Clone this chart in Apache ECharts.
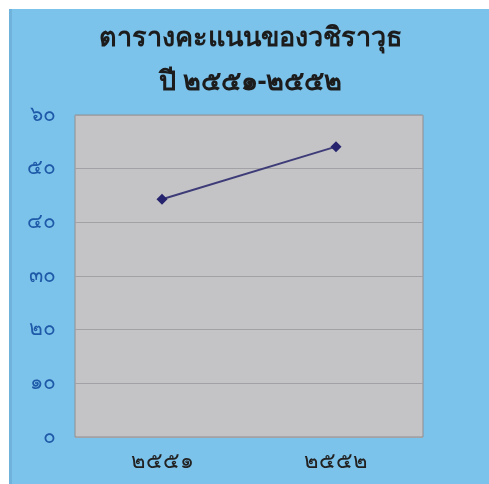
<!DOCTYPE html>
<html>
<head>
<meta charset="utf-8">
<script src="https://cdn.jsdelivr.net/npm/echarts@6/dist/echarts.min.js"></script>
<style>
  html, body { margin: 0; padding: 0; background: #ffffff; }
  #main { position: absolute; left: 9px; top: 9px; width: 480px; height: 475px; background: #7cc3ec; border-left: 3px solid #6fb2dc; box-sizing: border-box; }
</style>
</head>
<body>
<div id="main"></div>
<script>
var titleLines = ['ตารางคะแนนของวชิราวุธ', 'ปี ๒๕๕๑-๒๕๕๒'];
var years = ['๒๕๕๑', '๒๕๕๒'];
var scores = [44.3, 54.1];
var thaiDigits = ['๐', '๑', '๒', '๓', '๔', '๕', '๖', '๗', '๘', '๙'];

function toThai(n) {
    return String(n).replace(/[0-9]/g, function (d) { return thaiDigits[+d]; });
}

var myChart = echarts.init(document.getElementById('main'));
var option = {
    backgroundColor: 'transparent',
    title: {
        text: titleLines.join('\n'),
        left: 'center',
        top: 2,
        textStyle: {
            fontSize: 27,
            fontWeight: 'bold',
            color: '#1c1c1c',
            lineHeight: 44,
            fontFamily: 'Noto Sans, DejaVu Sans, sans-serif'
        }
    },
    grid: {
        left: 63,
        top: 106,
        right: 66,
        bottom: 47,
        show: true,
        backgroundColor: '#c4c4c6',
        borderColor: '#8e8e92',
        borderWidth: 1
    },
    xAxis: {
        type: 'category',
        data: years,
        boundaryGap: true,
        axisLine: { show: false },
        axisTick: { show: false },
        axisLabel: {
            margin: 14,
            fontSize: 22,
            color: '#222222'
        }
    },
    yAxis: {
        type: 'value',
        min: 0,
        max: 60,
        interval: 10,
        axisLine: { show: false },
        axisTick: { show: false },
        axisLabel: {
            margin: 19,
            fontSize: 21,
            color: '#1f5aa8',
            formatter: function (v) { return toThai(v); }
        },
        splitLine: { lineStyle: { color: '#a2a2a6', width: 1 } }
    },
    series: [{
        type: 'line',
        data: scores,
        symbol: 'diamond',
        symbolSize: 11,
        itemStyle: { color: '#26246e' },
        lineStyle: { color: '#3e3c78', width: 2 }
    }]
};
myChart.setOption(option);
</script>
</body>
</html>
